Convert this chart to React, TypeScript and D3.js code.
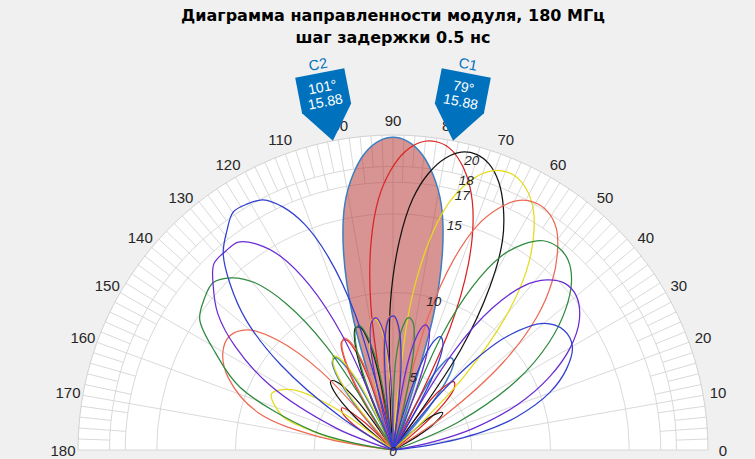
import React from 'react'
import * as d3 from 'd3'

type Pt = [number, number] // [angle in degrees, level]

const width = 755
const height = 459
const cx = 393
const cy = 450
const outerR = 315

const titleLines = ['Диаграмма направленности модуля, 180 МГц', 'шаг задержки 0.5 нс']
const thetaTicks = [0, 10, 20, 30, 40, 50, 60, 70, 80, 90, 100, 110, 120, 130, 140, 150, 160, 170, 180]
const rTicks = [0, 5, 10, 15, 17, 18, 20]
const rMax = 20

// each curve = list of lobes, each lobe runs null -> null
const delay0: Pt[][] = [
  [[47.8, 0], [49.6, 3.4], [53.1, 6.0], [55.5, 6.8], [58.1, 6.9], [61.3, 5.7], [64.4, 1.95], [65.6, 0]],
  [[69.8, 0], [70.4, 1.6], [73.3, 8.95], [76.1, 13.1], [78.9, 15.9], [81.7, 17.65], [84.5, 18.9], [87.2, 19.6], [90, 19.85],
    [92.8, 19.6], [95.5, 18.9], [98.3, 17.65], [101.1, 15.9], [103.9, 13.1], [106.7, 8.95], [109.6, 1.6], [110.2, 0]],
  [[114.4, 0], [115.6, 1.95], [118.7, 5.7], [121.9, 6.9], [124.5, 6.8], [126.9, 6.0], [130.4, 3.4], [132.2, 0]],
]
const delay1: Pt[][] = [
  [[35.5, 0], [38.4, 1.6], [42.6, 4.5], [45.4, 5.55], [48.4, 5.8], [52.0, 4.75], [55.4, 1.17], [56.7, 0]],
  [[61.2, 0], [61.8, 1.05], [64.9, 8.5], [67.9, 12.7], [70.9, 15.55], [73.7, 17.4], [76.6, 18.7], [79.4, 19.5], [82.2, 19.77],
    [85.0, 19.6], [87.7, 18.95], [90.5, 17.75], [93.2, 16.05], [96.0, 13.3], [98.7, 9.3], [101.5, 2.1], [102.1, 0]],
  [[106.1, 0], [107.2, 2.5], [110.1, 6.3], [113.1, 7.6], [115.5, 7.6], [117.7, 6.8], [120.8, 4.4], [123.2, 0]],
  [[133.6, 0], [136.3, 2.75], [140.4, 4.2], [143.6, 4.0], [147.5, 2.95], [151.2, 0]],
]
const delay2: Pt[][] = [
  [[26.5, 0], [29.4, 1.7], [33.1, 3.25], [37.0, 3.95], [41.3, 3.25], [45.3, 0]],
  [[51.9, 0], [52.6, 0.2], [56.0, 7.7], [59.3, 12.05], [62.4, 15.0], [65.5, 16.9], [68.5, 18.3], [71.4, 19.15], [74.25, 19.5],
    [77.1, 19.4], [79.9, 18.8], [82.7, 17.7], [85.5, 16.0], [88.2, 13.35], [91.0, 9.35], [93.7, 2.15], [94.3, 0]],
  [[98.2, 0], [99.3, 2.8], [102.1, 6.65], [104.9, 8.05], [107.2, 8.1], [109.2, 7.4], [112.1, 5.1], [115.2, 0.37], [116.1, 0]],
  [[123.3, 0], [126.0, 3.9], [129.5, 5.6], [132.1, 5.9], [135.1, 5.3], [139.1, 3.15], [142.3, 0]],
]
const delay3: Pt[][] = [
  [[42.3, 0], [43.6, 2.45], [46.0, 6.5], [49.7, 11.0], [53.2, 14.1], [56.6, 16.2], [59.8, 17.7], [62.9, 18.6], [66.0, 19.05],
    [69.0, 19.0], [71.9, 18.5], [74.75, 17.45], [77.6, 15.85], [80.4, 13.2], [83.2, 9.3], [85.9, 2.1], [86.5, 0]],
  [[90.3, 0], [91.4, 2.85], [94.2, 6.85], [97.0, 8.3], [99.1, 8.4], [101.1, 7.75], [103.9, 5.5], [106.8, 0.85], [107.7, 0]],
  [[113.4, 0], [113.8, 0.47], [116.9, 4.75], [120.0, 6.65], [122.3, 7.05], [124.9, 6.6], [128.3, 4.75], [131.9, 0.25], [132.5, 0]],
  [[141.0, 0], [144.3, 4.65], [149.3, 7.5], [155.2, 8.5], [162.9, 7.35], [166.0, 5.8], [170.0, 3.35], [173.5, 0]],
]
const delay4: Pt[][] = [
  [[30.7, 0], [31.2, 0.45], [33.8, 3.95], [38.5, 8.95], [42.7, 12.4], [46.6, 14.7], [50.3, 16.35], [53.7, 17.5], [57.1, 18.05],
    [60.3, 18.1], [63.5, 17.7], [66.5, 16.7], [69.45, 15.2], [72.4, 12.6], [75.2, 8.75], [78.05, 1.65], [78.6, 0]],
  [[82.5, 0], [83.6, 2.8], [86.4, 6.85], [89.1, 8.35], [91.3, 8.5], [93.3, 7.9], [96.0, 5.7], [98.8, 1.15], [99.7, 0]],
  [[104.7, 0], [105.5, 0.93], [108.4, 5.3], [111.3, 7.3], [113.5, 7.75], [115.85, 7.45], [118.9, 5.7], [122.1, 1.4], [123.5, 0]],
  [[128.9, 0], [132.5, 6.75], [136.4, 10.1], [140.5, 12.0], [145.1, 12.65], [150.2, 12.45], [156.4, 11.4], [164.6, 8.85], [170.0, 4.6], [174.0, 0]],
]
const delay5: Pt[][] = [
  [[18.7, 0], [19.4, 1.25], [23.2, 4.55], [29.4, 9.05], [34.6, 12.05], [39.2, 14.15], [43.4, 15.6], [47.3, 16.4], [50.9, 16.6],
    [54.35, 16.35], [57.7, 15.45], [60.9, 14.05], [64.0, 11.6], [67.0, 7.8], [69.9, 0.8], [70.55, 0]],
  [[74.6, 0], [75.7, 2.55], [78.5, 6.65], [81.3, 8.25], [83.5, 8.45], [85.5, 7.85], [88.2, 5.75], [91.0, 1.25], [91.8, 0]],
  [[96.8, 0], [97.6, 1.15], [100.4, 5.6], [103.2, 7.65], [105.2, 8.2], [107.5, 7.95], [110.4, 6.3], [113.4, 2.1], [114.6, 0]],
  [[119.2, 0], [119.5, 0.95], [122.75, 7.85], [126.1, 11.5], [129.6, 13.8], [133.2, 15.0], [137.1, 15.6], [141.3, 15.35],
    [146.0, 14.8], [151.3, 12.85], [157.7, 10.5], [166.6, 5.25], [170.0, 2.25], [171.5, 0]],
]
const delay6: Pt[][] = [
  [[9.0, 0], [10, 1.05], [12, 2.95], [15, 5.25], [20, 8.4], [25, 10.95], [30, 13.0], [35, 14.45], [40.0, 15.2],
    [44.1, 15.2], [47.9, 14.55], [51.5, 13.3], [55.0, 11.0], [58.3, 7.35], [61.4, 0.4], [62.1, 0]],
  [[66.35, 0], [67.5, 2.15], [70.5, 6.35], [73.4, 8.0], [75.6, 8.2], [77.6, 7.7], [80.4, 5.6], [83.2, 1.2], [84.1, 0]],
  [[89.0, 0], [89.8, 1.25], [92.6, 5.75], [95.3, 7.9], [97.3, 8.45], [99.5, 8.25], [102.3, 6.65], [105.1, 2.55], [106.3, 0]],
  [[110.6, 0], [110.9, 1.0], [113.9, 8.0], [116.9, 11.75], [120.1, 14.2], [123.3, 15.6], [126.65, 16.45], [130.2, 16.5],
    [133.9, 16.4], [137.8, 15.4], [142.1, 14.1], [146.8, 11.95], [152.3, 8.8], [158.9, 3.9], [162.0, 1.15], [163.5, 0]],
]
const delay7: Pt[][] = [
  [[5.9, 0], [7, 1.4], [8, 2.6], [10, 4.55], [12, 6.2], [15, 8.15], [20, 10.55], [25, 12.15], [30, 13.15], [35, 13.25],
    [40, 12.5], [45, 10.15], [48, 7.45], [50, 4.75], [52, 0.45], [52.6, 0]],
  [[57.5, 0], [58.8, 1.5], [62.0, 5.8], [65.0, 7.5], [67.4, 7.8], [69.5, 7.35], [72.4, 5.35], [75.3, 0.97], [76.2, 0]],
  [[81.2, 0], [82.0, 1.15], [84.8, 5.7], [87.5, 7.9], [89.5, 8.5], [91.7, 8.35], [94.4, 6.85], [97.2, 2.8], [98.3, 0]],
  [[102.3, 0], [102.8, 1.95], [105.6, 9.0], [108.5, 12.9], [111.4, 15.4], [114.4, 16.95], [117.45, 17.9], [120.6, 18.15],
    [123.85, 18.2], [127.2, 17.45], [130.8, 16.5], [134.5, 14.75], [138.5, 12.45], [142.8, 8.95], [147.7, 3.9], [149.8, 0]],
]

const seriesLobes = [delay0, delay1, delay2, delay3, delay4, delay5, delay6, delay7]
const seriesColors = ['#3b7fc0', '#d92424', '#141414', '#e3dc1e', '#ec6a55', '#2f8a40', '#6a2bd4', '#2f3fd0']

const cursors = [
  { label: 'C1', angle: 79, value: 15.88 },
  { label: 'C2', angle: 101, value: 15.88 },
]

const font = '"Liberation Sans", Arial, sans-serif'
const titleFont = '"DejaVu Sans", sans-serif'
const textColor = '#262626'
const gridColor = '#d5d5d5'

export default function App() {
  const r = d3.scaleLinear().domain([0, rMax]).range([0, outerR])
  const rad = (deg: number) => (deg * Math.PI) / 180
  const polar = (deg: number, dist: number) => [dist * Math.cos(rad(deg)), -dist * Math.sin(rad(deg))]

  const lobeLine = d3.lineRadial<Pt>()
    .angle(d => rad(90 - d[0]))
    .radius(d => r(d[1]))
    .curve(d3.curveCatmullRom.alpha(0.5))

  const halfCircle = (radius: number, close = false) => {
    const p = d3.path()
    p.moveTo(radius, 0)
    p.arc(0, 0, radius, 0, -Math.PI, true)
    if (close) p.closePath()
    return p.toString()
  }

  const minorSpokes = d3.range(2, 180, 2).filter(a => a % 10 !== 0)
  const peakLobe = (lobes: Pt[][]) => d3.maxIndex(lobes, l => d3.max(l, p => p[1]) as number)

  return (
    <>
      <style>{'body{margin:0;overflow:hidden}'}</style>
      <svg width={width} height={height} style={{ display: 'block', background: '#f0f0f0' }}>
        <g transform={`translate(${cx},${cy})`}>
          <path d={halfCircle(r(rMax), true)} fill="#ffffff" />

          {/* grid */}
          {minorSpokes.map(a => {
            const [x1, y1] = polar(a, r(a % 4 === 0 ? 17 : 18))
            const [x2, y2] = polar(a, r(rMax))
            return <line key={'m' + a} x1={x1} y1={y1} x2={x2} y2={y2} stroke={gridColor} strokeWidth={0.9} />
          })}
          {thetaTicks.map(a => {
            const [x2, y2] = polar(a, r(rMax))
            return <line key={'s' + a} x1={0} y1={0} x2={x2} y2={y2} stroke={gridColor} strokeWidth={0.9} />
          })}
          {rTicks.filter(t => t > 0).map(t => (
            <path key={'c' + t} d={halfCircle(r(t))} fill="none" stroke={t === rMax ? '#cdcdcd' : gridColor} strokeWidth={0.9} />
          ))}

          {/* filled main lobe of the first series */}
          <path d={lobeLine(delay0[peakLobe(delay0)]) as string} fill="#b83a3a" fillOpacity={0.55} stroke="none" />

          {/* patterns */}
          {seriesLobes.map((lobes, i) => (
            <g key={i} fill="none" stroke={seriesColors[i]} strokeWidth={i === 0 ? 1.5 : 1.25} strokeLinejoin="round">
              {lobes.map((lobe, j) => <path key={j} d={lobeLine(lobe) as string} />)}
            </g>
          ))}

          {/* radial tick labels */}
          {rTicks.map(t => {
            const [x, y] = polar(75, r(t === rMax ? 19.3 : t))
            return (
              <text key={'rt' + t} x={x} y={t === 0 ? y + 1 : y + 4} textAnchor="middle" dominantBaseline="central"
                fontFamily={font} fontSize={13.5} fontStyle="italic" fill={textColor}>{t}</text>
            )
          })}

          {/* angle tick labels */}
          {thetaTicks.map(a => {
            const [x, y] = polar(a, outerR + 15)
            return (
              <text key={'tt' + a} x={x} y={y} textAnchor="middle" dominantBaseline="central"
                fontFamily={font} fontSize={15} fill={textColor}>{a}</text>
            )
          })}

          {/* cursors */}
          {cursors.map(c => {
            const [tx, ty] = polar(c.angle, r(rMax))
            return (
              <g key={c.label} transform={`translate(${tx},${ty}) rotate(${90 - c.angle})`} fontFamily={font} textAnchor="middle">
                <path d="M0,0 L-25,-33 L-25,-69 L25,-69 L25,-33 Z" fill="#0072bd" />
                <text x={0} y={-73} fontSize={14.5} fill="#0072bd">{c.label}</text>
                <text x={0} y={-50} fontSize={14} fill="#ffffff">{`${c.angle}°`}</text>
                <text x={0} y={-35} fontSize={14} fill="#ffffff">{c.value.toFixed(2)}</text>
              </g>
            )
          })}
        </g>

        {titleLines.map((t, i) => (
          <text key={i} x={cx} y={21 + i * 22} textAnchor="middle" fontFamily={titleFont} fontWeight="bold"
            fontSize={16} fill="#000000">{t}</text>
        ))}
      </svg>
    </>
  )
}
